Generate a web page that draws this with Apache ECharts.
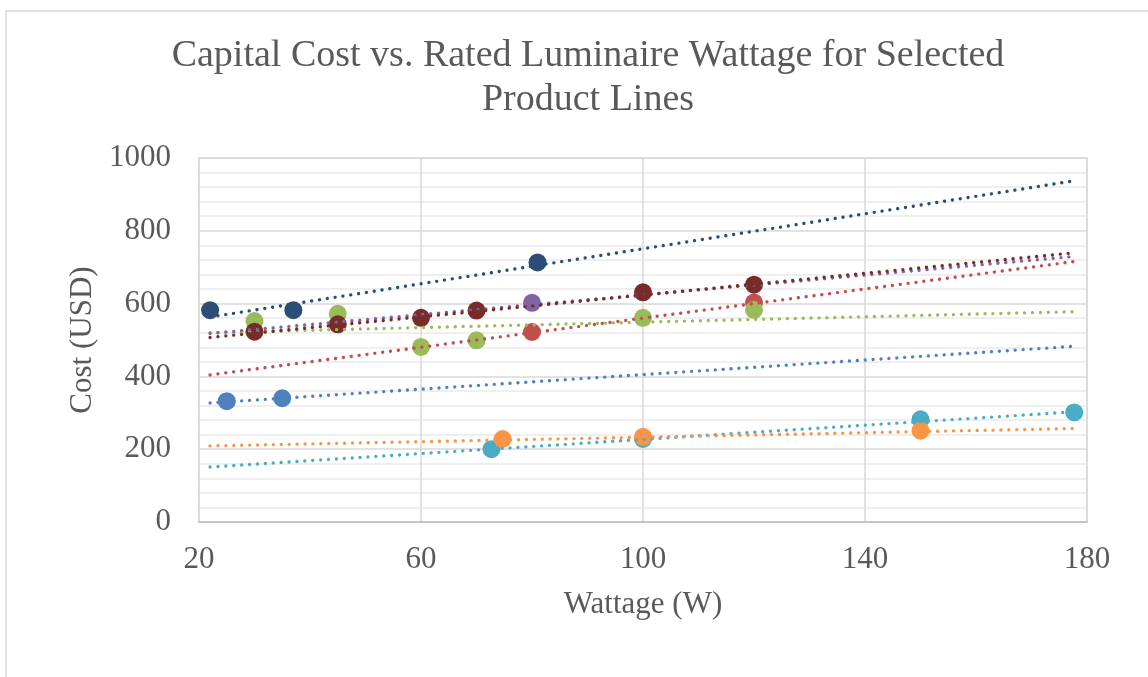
<!DOCTYPE html>
<html>
<head>
<meta charset="utf-8">
<style>
  html, body { margin: 0; padding: 0; background: #fff; }
  #chart { width: 1148px; height: 677px; }
</style>
<script src="https://cdn.jsdelivr.net/npm/echarts@6/dist/echarts.min.js"></script>
</head>
<body>
<div id="chart"></div>
<script>
// Wattage (W) and capital cost (USD) per product line
const navyPts    = [[22, 582], [37, 582], [81, 713]];
const bluePts    = [[25, 332], [35, 340]];
const greenPts   = [[30, 552], [45, 572], [60, 481], [70, 499], [100, 561], [120, 583]];
const darkRedPts = [[30, 523], [45, 543], [60, 561], [70, 581], [100, 631], [120, 652]];
const purplePts  = [[80, 602]];
const redPts     = [[80, 522], [120, 603]];
const aquaPts    = [[72.7, 200], [100, 228], [150, 282], [177.7, 301]];
const orangePts  = [[74.7, 228], [100, 234], [150, 251]];

// Linear trendline ends (cost at the first and last wattage of the span)
const trendSpan = [22, 178];
const navyTrend    = [563, 938];
const blueTrend    = [327, 483];
const greenTrend   = [520, 578];
const darkRedTrend = [507, 740];
const purpleTrend  = [518, 730];
const redTrend     = [404, 716];
const aquaTrend    = [151, 303];
const orangeTrend  = [209, 257];

// Axis ticks
const xTicks = [20, 60, 100, 140, 180];
const yTicks = [0, 200, 400, 600, 800, 1000];

const FONT = '"Liberation Serif", "Times New Roman", serif';
const TEXT = '#595959';

const groups = [
  { name: 'Line 1', color: '#4F81BD', pts: bluePts,    trend: blueTrend },
  { name: 'Line 2', color: '#C0504D', pts: redPts,     trend: redTrend },
  { name: 'Line 3', color: '#9BBB59', pts: greenPts,   trend: greenTrend },
  { name: 'Line 4', color: '#8064A2', pts: purplePts,  trend: purpleTrend },
  { name: 'Line 5', color: '#4BACC6', pts: aquaPts,    trend: aquaTrend },
  { name: 'Line 6', color: '#F79646', pts: orangePts,  trend: orangeTrend },
  { name: 'Line 7', color: '#2C4D75', pts: navyPts,    trend: navyTrend },
  { name: 'Line 8', color: '#772C2A', pts: darkRedPts, trend: darkRedTrend }
];

const series = [];
groups.forEach(g => {
  series.push({
    name: g.name,
    type: 'scatter',
    data: g.pts,
    symbol: 'circle',
    symbolSize: 18,
    itemStyle: { color: g.color, opacity: 1 },
    z: 3,
    silent: true
  });
});
// Round-dot trendlines, drawn above the markers
groups.forEach(g => {
  series.push({
    name: g.name + ' trend',
    type: 'line',
    data: [[trendSpan[0], g.trend[0]], [trendSpan[1], g.trend[1]]],
    showSymbol: false,
    symbol: 'none',
    lineStyle: { color: g.color, width: 3.4, type: [0.01, 7.9], cap: 'round' },
    z: 5,
    silent: true,
    animation: false
  });
});

const chart = echarts.init(document.getElementById('chart'), null, { renderer: 'canvas' });
chart.setOption({
  animation: false,
  backgroundColor: '#fff',
  title: {
    text: 'Capital Cost vs. Rated Luminaire Wattage for Selected\nProduct Lines',
    left: 583,
    top: 29,
    textAlign: 'center',
    textStyle: { fontFamily: FONT, fontSize: 38, fontWeight: 'normal', color: TEXT, lineHeight: 44 }
  },
  graphic: [{
    type: 'rect',
    shape: { x: 6, y: 11, width: 1170, height: 700 },
    style: { fill: 'none', stroke: '#d9d9d9', lineWidth: 1.5 },
    silent: true
  }],
  grid: {
    left: 199, right: 61, top: 158, bottom: 155,
    show: true, borderColor: '#d9d9d9', borderWidth: 1.5, backgroundColor: 'transparent'
  },
  xAxis: {
    type: 'value',
    min: xTicks[0], max: xTicks[xTicks.length - 1], interval: 40,
    name: 'Wattage (W)',
    nameLocation: 'middle',
    nameGap: 67,
    nameTextStyle: { fontFamily: FONT, fontSize: 31, color: TEXT },
    axisLine: { show: true, lineStyle: { color: '#bfbfbf', width: 1.5 } },
    axisTick: { show: false },
    axisLabel: { fontFamily: FONT, fontSize: 31, color: TEXT, margin: 22, formatter: v => String(v) },
    splitLine: { show: true, lineStyle: { color: '#d9d9d9', width: 1.5 } }
  },
  yAxis: {
    type: 'value',
    min: yTicks[0], max: yTicks[yTicks.length - 1], interval: 200,
    name: 'Cost (USD)',
    nameLocation: 'middle',
    nameGap: 78,
    nameTextStyle: { fontFamily: FONT, fontSize: 31, color: TEXT },
    axisLine: { show: false },
    axisTick: { show: false },
    axisLabel: { fontFamily: FONT, fontSize: 31, color: TEXT, margin: 28, formatter: v => String(v) },
    splitLine: { show: true, lineStyle: { color: '#d9d9d9', width: 1.5 } },
    minorTick: { show: false, splitNumber: 5 },
    minorSplitLine: { show: true, lineStyle: { color: '#efefef', width: 2 } }
  },
  series: series
});
</script>
</body>
</html>
